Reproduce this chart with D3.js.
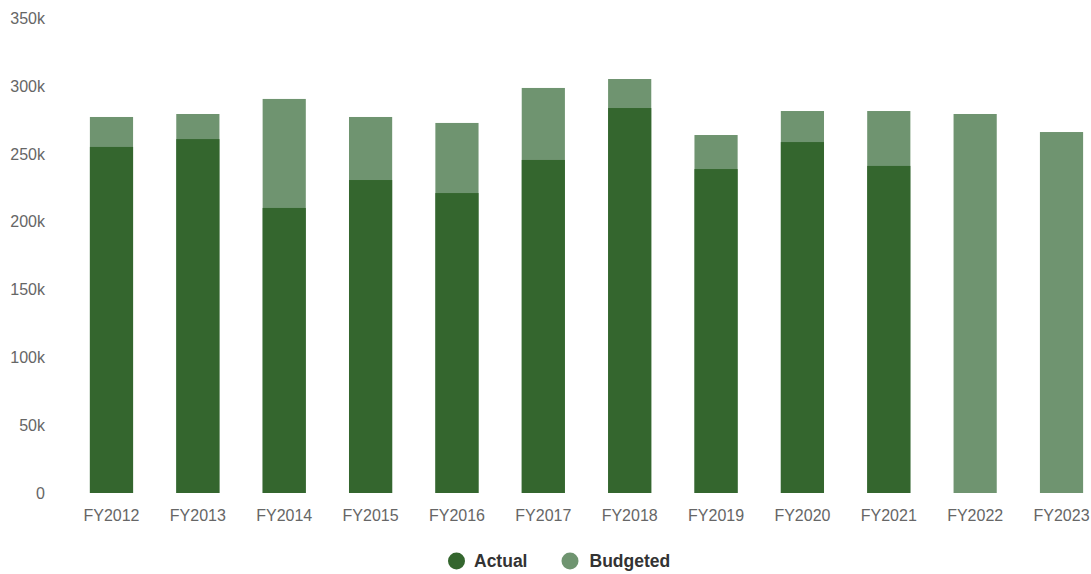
<!DOCTYPE html>
<html>
<head>
<meta charset="utf-8">
<script src="https://cdn.jsdelivr.net/npm/d3@7"></script>
<style>
  html, body { margin: 0; padding: 0; background: #fff; }
  svg { display: block; font-family: "Liberation Sans", Arial, Helvetica, sans-serif; }
</style>
</head>
<body>
<svg id="chart" width="1091" height="574"></svg>
<script>
// Fiscal years and spending (actual vs. budgeted)
const years = ["FY2012","FY2013","FY2014","FY2015","FY2016","FY2017","FY2018","FY2019","FY2020","FY2021","FY2022","FY2023"];
const actual = [255200, 261000, 210200, 230800, 221200, 245600, 283900, 238900, 258800, 241200, null, null];
const budgeted = [277300, 279500, 290600, 277300, 272900, 298700, 305300, 264000, 281700, 281700, 279500, 266200];
const yTicks = [0, 50000, 100000, 150000, 200000, 250000, 300000, 350000];

const colors = { actual: "#34662e", budgeted: "#6f9470" };

const svg = d3.select("#chart");

const x = d3.scaleBand()
  .domain(years)
  .range([68.3, 1104.7])
  .paddingInner(0.5)
  .paddingOuter(0.25);

const y = d3.scaleLinear()
  .domain([0, 350000])
  .range([493, 18.4]);

// Y axis labels
const yAxis = d3.axisLeft(y)
  .tickValues(yTicks)
  .tickSize(0)
  .tickPadding(0)
  .tickFormat(d => d === 0 ? "0" : (d / 1000) + "k");

const gy = svg.append("g")
  .attr("transform", "translate(45,0)")
  .call(yAxis);
gy.select(".domain").remove();
gy.selectAll("text")
  .attr("fill", "#666")
  .style("font-size", "16px")
  .style("font-family", "'Liberation Sans', Arial, sans-serif");

// X axis labels
const xAxis = d3.axisBottom(x).tickSize(0).tickPadding(0);
const gx = svg.append("g")
  .attr("transform", "translate(0,510)")
  .call(xAxis);
gx.select(".domain").remove();
gx.selectAll("text")
  .attr("fill", "#666")
  .style("font-size", "16px")
  .style("font-family", "'Liberation Sans', Arial, sans-serif");

// Budgeted bars behind, actual bars in front
svg.append("g").selectAll("rect")
  .data(years.map((yr, i) => ({ yr, v: budgeted[i] })))
  .join("rect")
  .attr("x", d => x(d.yr))
  .attr("width", x.bandwidth())
  .attr("y", d => y(d.v))
  .attr("height", d => y(0) - y(d.v))
  .attr("fill", colors.budgeted);

svg.append("g").selectAll("rect")
  .data(years.map((yr, i) => ({ yr, v: actual[i] })).filter(d => d.v != null))
  .join("rect")
  .attr("x", d => x(d.yr))
  .attr("width", x.bandwidth())
  .attr("y", d => y(d.v))
  .attr("height", d => y(0) - y(d.v))
  .attr("fill", colors.actual);

// Legend
const legendItems = [
  { name: "Actual", color: colors.actual, cx: 456.5, tx: 474 },
  { name: "Budgeted", color: colors.budgeted, cx: 570, tx: 589.5 }
];
const lg = svg.append("g");
legendItems.forEach(it => {
  lg.append("circle")
    .attr("cx", it.cx).attr("cy", 561).attr("r", 8.5)
    .attr("fill", it.color);
  lg.append("text")
    .attr("x", it.tx).attr("y", 567)
    .attr("fill", "#333")
    .style("font-size", "17.5px")
    .style("font-weight", "bold")
    .text(it.name);
});
</script>
</body>
</html>
